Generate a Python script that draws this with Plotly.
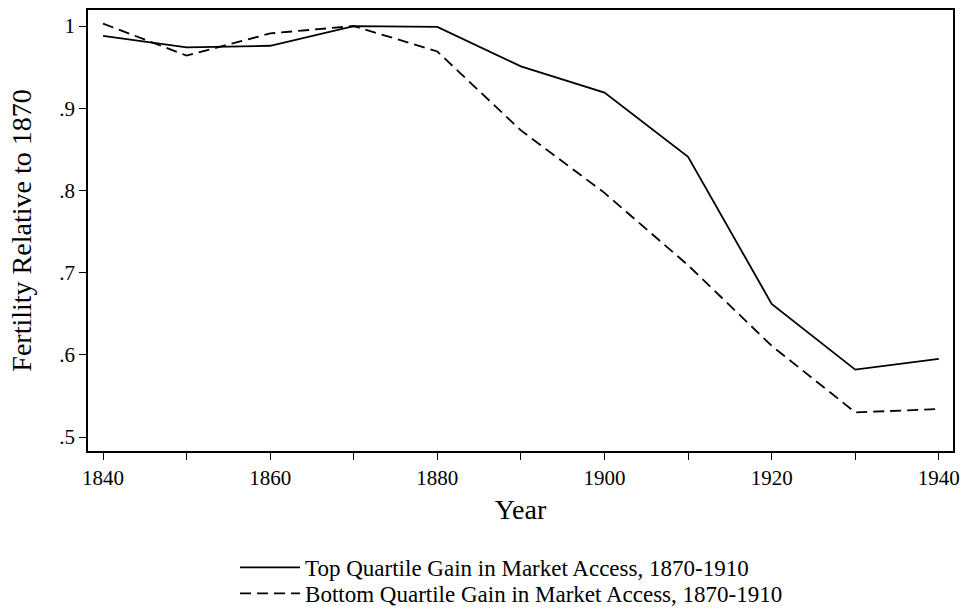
import plotly.graph_objects as go

years = [1840, 1850, 1860, 1870, 1880, 1890, 1900, 1910, 1920, 1930, 1940]
top_quartile = [0.988, 0.974, 0.976, 1.000, 0.999, 0.951, 0.919, 0.841, 0.662, 0.582, 0.595]
bottom_quartile = [1.003, 0.964, 0.991, 1.000, 0.969, 0.873, 0.797, 0.709, 0.611, 0.530, 0.534]
x_ticks = [1840, 1860, 1880, 1900, 1920, 1940]
x_minor_ticks = [1850, 1870, 1890, 1910, 1930]
y_ticks = [0.5, 0.6, 0.7, 0.8, 0.9, 1.0]
y_tick_labels = [".5", ".6", ".7", ".8", ".9", "1"]

font = "Liberation Serif, Times New Roman, serif"
fs = 23
tfs = 21

fig = go.Figure()
fig.add_trace(go.Scatter(x=years, y=top_quartile, mode="lines",
                         name="Top Quartile Gain in Market Access, 1870-1910",
                         legend="legend",
                         line=dict(color="black", width=1.8)))
fig.add_trace(go.Scatter(x=years, y=bottom_quartile, mode="lines",
                         name="Bottom Quartile Gain in Market Access, 1870-1910",
                         legend="legend2",
                         line=dict(color="black", width=1.8, dash="11px,6px")))

legend_style = dict(orientation="v", x=0.170, xref="paper", xanchor="left",
                    yref="container", yanchor="top",
                    font=dict(family=font, size=fs), itemwidth=60,
                    bgcolor="rgba(0,0,0,0)")

fig.update_layout(
    width=963, height=612,
    margin=dict(l=88, r=10, t=10, b=161),
    paper_bgcolor="white", plot_bgcolor="white",
    font=dict(family=font, size=fs, color="black"),
    showlegend=True,
    legend=dict(legend_style, y=0.108),
    legend2=dict(legend_style, y=0.0655),
    xaxis=dict(range=[1838.2, 1941.7], tickvals=x_ticks, ticks="outside",
               ticklen=7, tickwidth=1.2, tickcolor="black", tickangle=0,
               showline=True, linecolor="black", linewidth=1.5, mirror=True,
               showgrid=False, zeroline=False, automargin=False,
               minor=dict(tickvals=x_minor_ticks, ticks="outside", ticklen=7,
                          tickwidth=1.2, tickcolor="black"),
               title=dict(text="Year", standoff=10),
               tickfont=dict(family=font, size=tfs)),
    yaxis=dict(range=[0.483, 1.0195], tickvals=y_ticks, ticktext=y_tick_labels,
               ticks="outside", ticklen=7, tickwidth=1.2, tickcolor="black",
               showline=True, linecolor="black", linewidth=1.5, mirror=True,
               showgrid=False, zeroline=False, automargin=False,
               tickangle=0,
               title=dict(text="Fertility Relative to 1870", standoff=19),
               tickfont=dict(family=font, size=tfs)),
)

fig.write_html("out.html",
               config={"displayModeBar": False},
               post_script="document.body.style.margin='0';document.body.style.overflow='hidden';")
